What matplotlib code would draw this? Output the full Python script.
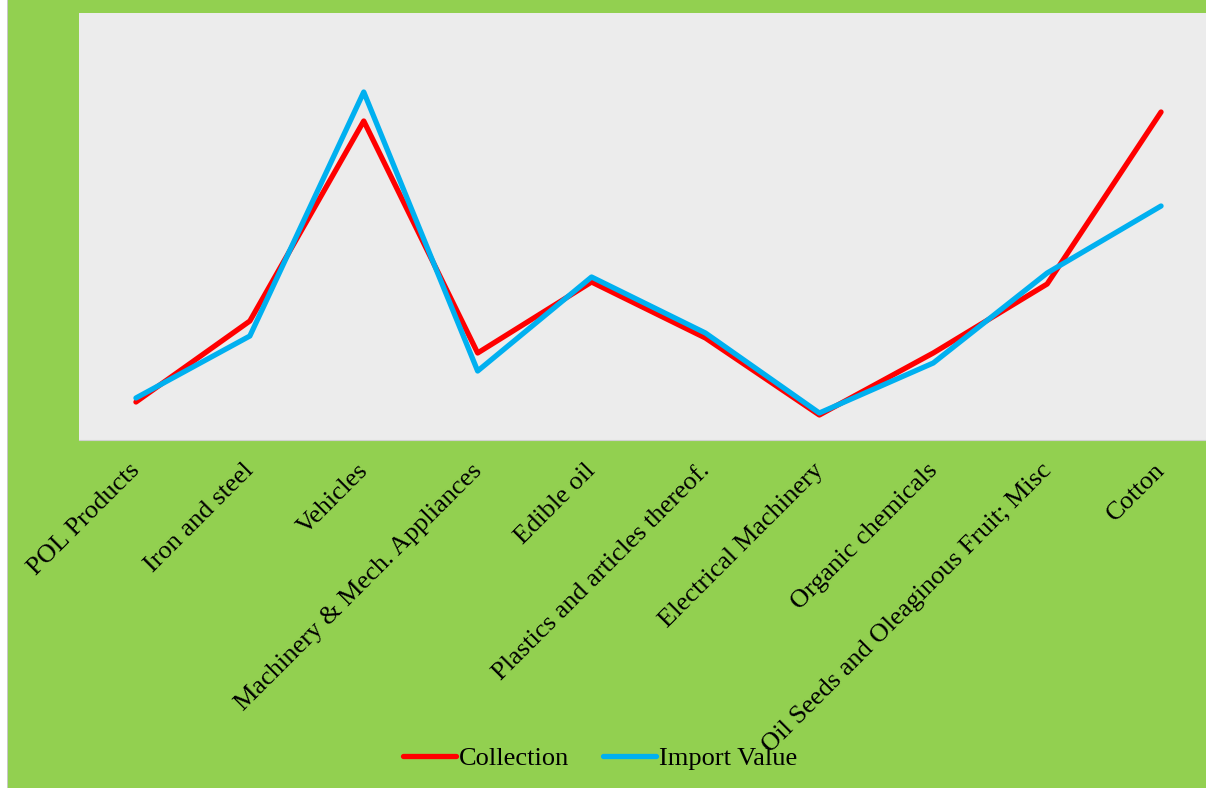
import matplotlib.pyplot as plt
from matplotlib.patches import Rectangle
from matplotlib.transforms import ScaledTranslation

categories = ['POL Products', 'Iron and steel', 'Vehicles', 'Machinery & Mech. Appliances',
              'Edible oil', 'Plastics and articles thereof.', 'Electrical Machinery',
              'Organic chemicals', 'Oil Seeds and Oleaginous Fruit; Misc', 'Cotton']
collection = [9.5, 29.75, 79.75, 21.75, 39.5, 25.5, 6.25, 21.75, 39.0, 82.0]
import_value = [10.5, 26.0, 87.0, 17.25, 40.75, 26.75, 6.75, 19.25, 41.75, 58.5]

plt.rcParams['font.family'] = ['Liberation Serif', 'DejaVu Serif']

W, H = 1206, 788
fig = plt.figure(figsize=(W / 100, H / 100), dpi=100, facecolor='white')
# green chart area with thin gray left border
fig.patches.append(Rectangle((8 / W, 0), 1, 1, transform=fig.transFigure,
                             facecolor='#92D050', edgecolor='none', zorder=-2))
fig.patches.append(Rectangle((7 / W, 0), 1.2 / W, 1, transform=fig.transFigure,
                             facecolor='#C8C8C8', edgecolor='none', zorder=-2))

ax = fig.add_axes([79 / W, (H - 440) / H, 1139 / W, (440 - 13) / H])
ax.set_facecolor('#ECECEC')
x = range(len(categories))
ax.plot(x, collection, color='#FF0000', lw=3.8, label='Collection', solid_capstyle='round')
ax.plot(x, import_value, color='#00B0F0', lw=3.8, label='Import Value', solid_capstyle='round')

ax.set_xlim(-0.5, len(categories) - 0.5)
ax.set_ylim(0, 106.75)
ax.set_yticks([])
ax.set_xticks(list(x))
ax.set_xticklabels(categories, rotation=45, ha='right', va='top',
                   rotation_mode='anchor', fontsize=19)
ax.tick_params(axis='x', length=0, pad=14)
shift = ScaledTranslation(-7 / 100, 0, fig.dpi_scale_trans)
for lbl in ax.get_xticklabels():
    lbl.set_transform(lbl.get_transform() + shift)
for s in ['top', 'left', 'right']:
    ax.spines[s].set_visible(False)
ax.spines['bottom'].set_color('#D0D0D0')

fig.legend(loc='center', bbox_to_anchor=(600 / W, 1 - 758 / H), ncol=2, frameon=False,
           fontsize=19, handlelength=2.0, handletextpad=0.1, columnspacing=1.3)

fig.savefig('out.png', dpi=100, facecolor=fig.get_facecolor())
